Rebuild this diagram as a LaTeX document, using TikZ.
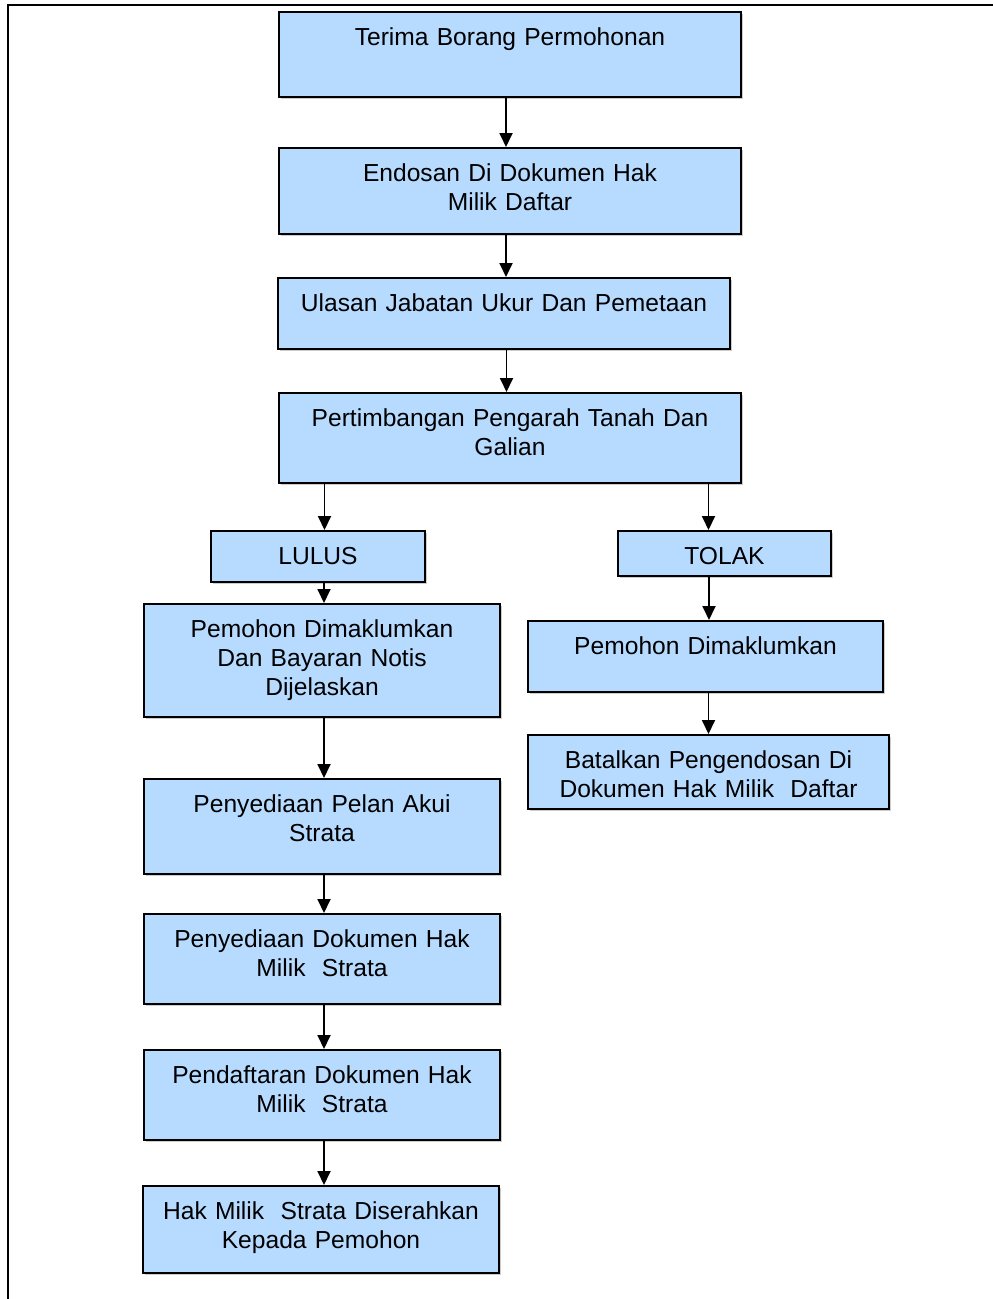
\documentclass[tikz,border=0pt]{standalone}
\usepackage{fontspec}
\setmainfont{Liberation Sans}
\usepackage{tikz}
\usetikzlibrary{shadows}
\usetikzlibrary{arrows.meta}
\definecolor{boxblue}{RGB}{183,219,255}
\tikzstyle{stepbox}=[rectangle,draw,line width=2pt,fill=boxblue,inner sep=0pt,drop shadow={shadow xshift=1.5pt,shadow yshift=-1.5pt,fill=black!40}]
\tikzstyle{boxtext}=[anchor=base,yshift=-34.5pt,text width=440pt,align=center,inner sep=0pt,font=\fontsize{24.6}{29}\selectfont]
\tikzstyle{flow}=[draw,line width=1.8pt,-{Triangle[width=13pt,length=14pt]}]

\begin{document}
\begin{tikzpicture}[x=1pt, y=-1pt]

    \useasboundingbox (0,0) rectangle (993,1299);
    \draw[line width=2.5pt] (8,1299) -- (8,5) -- (993,5);

    % boxes: name / centre x / centre y / width / height / text
    \foreach \name/\cx/\cy/\w/\h/\txt in {
        terima/510/54.5/462/85/{Terima Borang Permohonan},
        endosan/510/191/462/86/{Endosan Di Dokumen Hak\\Milik Daftar},
        ulasan/504/313.5/452/71/{Ulasan Jabatan Ukur Dan Pemetaan},
        pertimb/510/438/462/90/{Pertimbangan Pengarah Tanah Dan\\Galian},
        lulus/318/556.5/214/51/{LULUS},
        tolak/724.5/553.5/213/45/{TOLAK},
        maklumL/322/660.5/356/113/{Pemohon Dimaklumkan\\Dan Bayaran Notis\\Dijelaskan},
        maklumR/705.5/656.5/355/71/{Pemohon Dimaklumkan},
        batal/708.5/772/361/74/{Batalkan Pengendosan Di\\Dokumen Hak Milik\ \ Daftar},
        pelan/322/826.5/356/95/{Penyediaan Pelan Akui\\Strata},
        dokumen/322/959/356/90/{Penyediaan Dokumen Hak\\Milik\ \ Strata},
        daftar/322/1095/356/90/{Pendaftaran Dokumen Hak\\Milik\ \ Strata},
        serah/321/1229.5/356/87/{Hak Milik\ \ Strata Diserahkan\\Kepada Pemohon}
    }
        \node[stepbox, minimum width=\w pt, minimum height=\h pt, label={[boxtext]north:\txt}] (\name) at (\cx,\cy) {};

    % arrows: source / target / x offset at target
    \foreach \source/\dest/\dx in {terima/endosan/-4, endosan/ulasan/2, ulasan/pertimb/-3.5, pertimb/lulus/6.5, pertimb/tolak/-16, lulus/maklumL/2, tolak/maklumR/3.5, maklumR/batal/0, maklumL/pelan/2, pelan/dokumen/2, dokumen/daftar/2, daftar/serah/3}
    {
        \coordinate (tip) at ([xshift=\dx pt]\dest.north);
        \draw[flow] (\source.south -| tip) -- (tip);
    }

\end{tikzpicture}
\end{document}
